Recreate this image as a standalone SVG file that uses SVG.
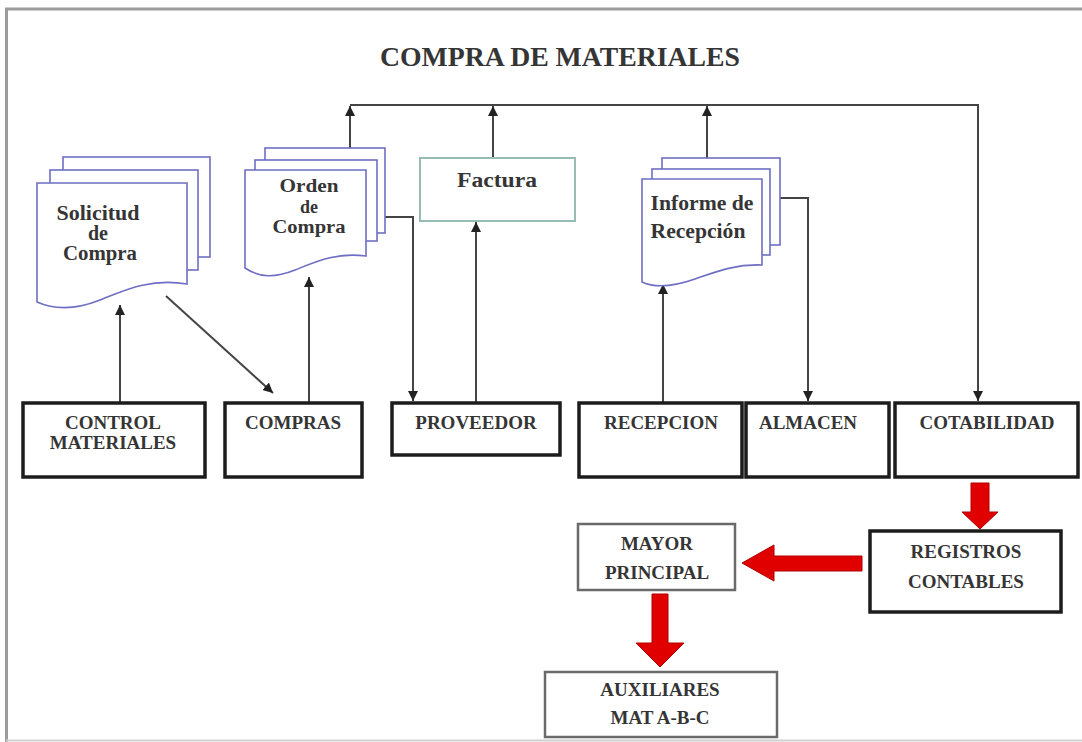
<svg xmlns="http://www.w3.org/2000/svg" width="1082" height="742" viewBox="0 0 1082 742">
<defs>
<style>
.t{font-family:"Liberation Serif","Times New Roman",serif;font-weight:bold;fill:#353535;text-anchor:middle}
.lbl{font-size:19px}
.doc{font-size:20px}
.doc2{font-size:18px}
.pg{fill:#fff;stroke:#6e6ec4;stroke-width:1.6}
.box{fill:#fff;stroke:#1c1c1c;stroke-width:3.5}
.box2{fill:#fff;stroke:#6a6a6a;stroke-width:2.5}
.cn{fill:none;stroke:#444;stroke-width:2}
.red{fill:#e00000;stroke:#b00000;stroke-width:1}
</style>
<marker id="ah" viewBox="0 0 10 10" refX="10" refY="5" markerWidth="10" markerHeight="10" markerUnits="userSpaceOnUse" orient="auto">
<path d="M0,0 L10,5 L0,10 z" fill="#222"/>
</marker>
</defs>
<rect x="0" y="0" width="1082" height="742" fill="#fff"/>
<path d="M1082,9 H6.5 V742" fill="none" stroke="#9c9c9c" stroke-width="3"/>
<path d="M6,740.5 H1082" fill="none" stroke="#d0d0d0" stroke-width="2"/>
<text class="t" x="560" y="66" font-size="27" textLength="360" lengthAdjust="spacingAndGlyphs">COMPRA DE MATERIALES</text>

<g id="connectors">
<path class="cn" d="M350,105 H978 V401" marker-end="url(#ah)"/>
<path class="cn" d="M350,148 V106" marker-end="url(#ah)"/>
<path class="cn" d="M493,157 V106" marker-end="url(#ah)"/>
<path class="cn" d="M707,158 V106" marker-end="url(#ah)"/>
<path class="cn" d="M377,217 H413 V401" marker-end="url(#ah)"/>
<path class="cn" d="M780,198 H808 V401" marker-end="url(#ah)"/>
<path class="cn" d="M120,402 V305" marker-end="url(#ah)"/>
<path class="cn" d="M309,402 V277" marker-end="url(#ah)"/>
<path class="cn" d="M476,402 V222" marker-end="url(#ah)"/>
<path class="cn" d="M663,402 V284" marker-end="url(#ah)"/>
<path class="cn" d="M166,296 L273,393" marker-end="url(#ah)"/>
<polygon class="red" points="971,483 989,483 989,512 998,512 980,529 962,512 971,512"/>
<polygon class="red" points="862,556 862,571 774,571 774,581 742,563 774,545 774,556"/>
<polygon class="red" points="652,594 668,594 668,643 684,643 660,667 636,643 652,643"/>
</g>

<g id="solicitud">
<rect class="pg" x="63" y="157" width="147" height="100"/>
<rect class="pg" x="50" y="170" width="148" height="100"/>
<path class="pg" d="M37,183 H187 V284 C150,278 125,290 100,300 C75,310 55,310 37,302 Z"/>
<text class="t doc" x="98" y="220" textLength="83" lengthAdjust="spacingAndGlyphs">Solicitud</text>
<text class="t doc" x="98" y="240">de</text>
<text class="t doc" x="100" y="260" textLength="74" lengthAdjust="spacingAndGlyphs">Compra</text>
</g>

<g id="orden">
<rect class="pg" x="265" y="148" width="120" height="85"/>
<rect class="pg" x="255" y="160" width="122" height="81"/>
<path class="pg" d="M245,170 H366 V256 C335,252 315,262 295,270 C275,278 260,278 245,268 Z"/>
<text class="t doc2" x="309" y="192" textLength="59" lengthAdjust="spacingAndGlyphs">Orden</text>
<text class="t doc2" x="309" y="213">de</text>
<text class="t doc2" x="309" y="233" textLength="73" lengthAdjust="spacingAndGlyphs">Compra</text>
</g>

<g id="factura">
<rect x="420" y="158" width="155" height="63" fill="#fff" stroke="#96bcb4" stroke-width="2"/>
<text class="t doc" x="497" y="187" textLength="80" lengthAdjust="spacingAndGlyphs">Factura</text>
</g>

<g id="informe">
<rect class="pg" x="662" y="158" width="118" height="87"/>
<rect class="pg" x="652" y="169" width="118" height="86"/>
<path class="pg" d="M642,179 H762 V265 C735,264 715,272 695,279 C675,286 657,289 642,282 Z"/>
<text class="t doc" x="702" y="210" textLength="103" lengthAdjust="spacingAndGlyphs">Informe de</text>
<text class="t doc" x="698" y="238" textLength="95" lengthAdjust="spacingAndGlyphs">Recepción</text>
</g>

<g id="control">
<rect class="box" x="23" y="403" width="182" height="74"/>
<text class="t lbl" x="113" y="429">CONTROL</text>
<text class="t lbl" x="113" y="449">MATERIALES</text>
</g>
<g id="compras">
<rect class="box" x="225" y="403" width="137" height="74"/>
<text class="t lbl" x="293" y="429">COMPRAS</text>
</g>
<g id="proveedor">
<rect class="box" x="392" y="403" width="168" height="52"/>
<text class="t lbl" x="476" y="429">PROVEEDOR</text>
</g>
<g id="recepcion">
<rect class="box" x="579" y="403" width="163" height="74"/>
<text class="t lbl" x="661" y="429">RECEPCION</text>
</g>
<g id="almacen">
<rect class="box" x="746" y="403" width="143" height="74"/>
<text class="t lbl" x="808" y="429">ALMACEN</text>
</g>
<g id="cotabilidad">
<rect class="box" x="895" y="403" width="183" height="74"/>
<text class="t lbl" x="987" y="429">COTABILIDAD</text>
</g>
<g id="registros">
<rect class="box" x="870" y="531" width="191" height="81"/>
<text class="t lbl" x="966" y="558">REGISTROS</text>
<text class="t lbl" x="966" y="588">CONTABLES</text>
</g>
<g id="mayor">
<rect class="box2" x="578" y="524" width="157" height="66"/>
<text class="t lbl" x="657" y="550">MAYOR</text>
<text class="t lbl" x="657" y="579">PRINCIPAL</text>
</g>
<g id="auxiliares">
<rect class="box2" x="545" y="672" width="232" height="65"/>
<text class="t lbl" x="660" y="696">AUXILIARES</text>
<text class="t lbl" x="660" y="724">MAT A-B-C</text>
</g>
</svg>
